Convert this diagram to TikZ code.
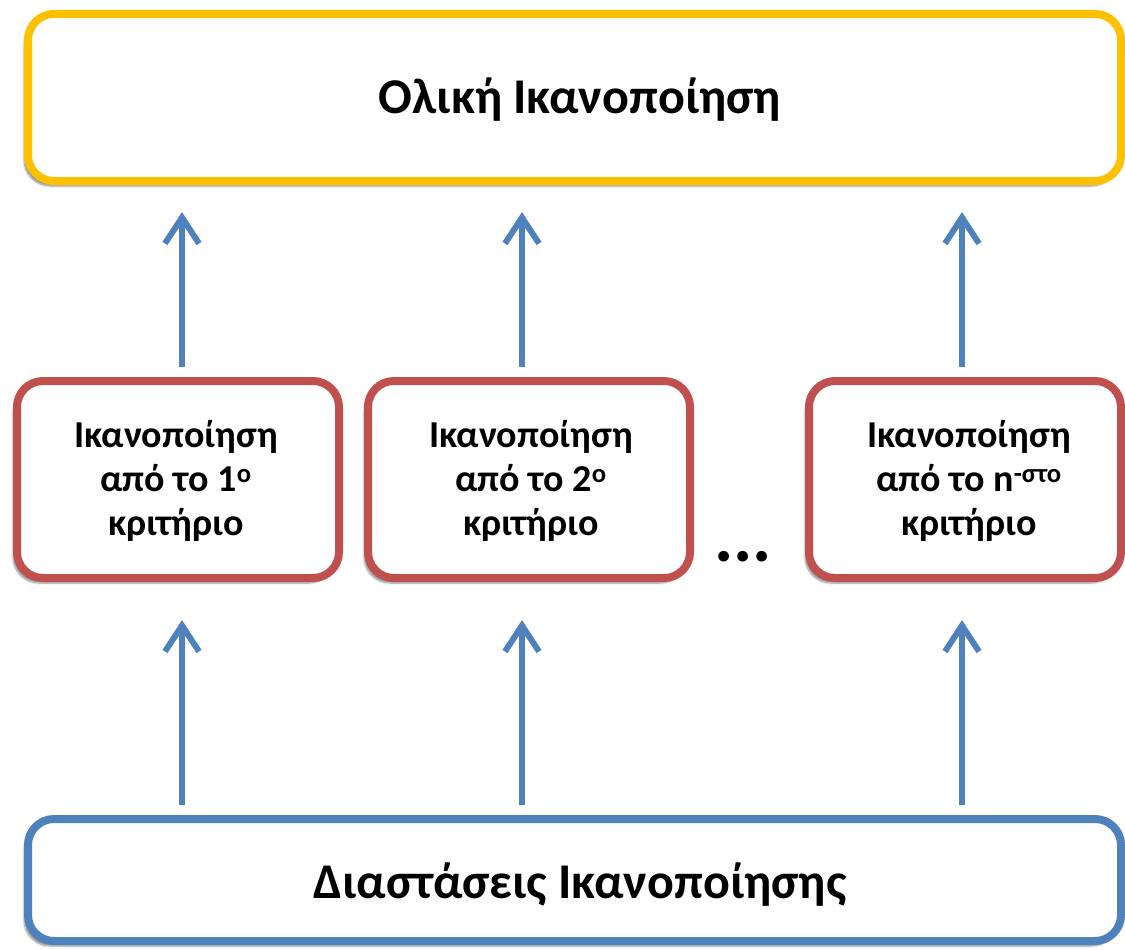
\documentclass[tikz,border=0pt]{standalone}
\usepackage{fontspec}
\setmainfont{Carlito}
\usetikzlibrary{arrows.meta,shadows.blur}
\definecolor{yel}{HTML}{FFC000}
\definecolor{rd}{HTML}{C0504D}
\definecolor{bl}{HTML}{4F81BD}
\begin{document}
\begin{tikzpicture}[x=1pt,y=-1pt,
  boxbase/.style={draw,fill=white,line width=8pt,rounded corners=26pt,
    blur shadow={shadow xshift=-4pt,shadow yshift=-5pt,shadow blur steps=6,shadow opacity=45}},
  topbox/.style={boxbase,draw=yel},
  critbox/.style={boxbase,draw=rd},
  basebox/.style={boxbase,draw=bl},
  bigtext/.style={font=\fontsize{50}{56}\selectfont\bfseries},
  smalltext/.style={font=\fontsize{38}{44}\selectfont\bfseries,align=center},
  uparrow/.style={draw=bl,line width=6pt,-{Straight Barb[length=26pt,width=34pt,line width=6pt]}}
]
\useasboundingbox (0,0) rectangle (1125,950);
% boxes
\draw[topbox] (28,14) rectangle (1121,181);
\draw[critbox] (17,381) rectangle (339,578);
\draw[critbox] (368,381) rectangle (690,578);
\draw[critbox] (809,381) rectangle (1121,578);
\draw[basebox] (28,819) rectangle (1121,941);
% text nodes
\node[bigtext] (top) at (580,100) {Ολική Ικανοποίηση};
\node[smalltext] (c1) at (176,481) {Ικανοποίηση\\από το 1\textsuperscript{ο}\\κριτήριο};
\node[smalltext] (c2) at (531,481) {Ικανοποίηση\\από το 2\textsuperscript{ο}\\κριτήριο};
\node[smalltext] (c3) at (969,481) {Ικανοποίηση\\από το n\textsuperscript{-στο}\\κριτήριο};
\node[font=\fontsize{72}{72}\selectfont\bfseries,anchor=base] (dots) at (743,561) {...};
\node[bigtext] (base) at (580,885) {Διαστάσεις Ικανοποίησης};
% arrow anchors
\coordinate (a1s) at (182,367); \coordinate (a1e) at (182,212);
\coordinate (a2s) at (522,367); \coordinate (a2e) at (522,212);
\coordinate (a3s) at (962,367); \coordinate (a3e) at (962,212);
\coordinate (b1s) at (182,805); \coordinate (b1e) at (182,620);
\coordinate (b2s) at (522,805); \coordinate (b2e) at (522,620);
\coordinate (b3s) at (962,805); \coordinate (b3e) at (962,620);
\draw[uparrow] (a1s) -- (a1e);
\draw[uparrow] (a2s) -- (a2e);
\draw[uparrow] (a3s) -- (a3e);
\draw[uparrow] (b1s) -- (b1e);
\draw[uparrow] (b2s) -- (b2e);
\draw[uparrow] (b3s) -- (b3e);
\end{tikzpicture}
\end{document}
